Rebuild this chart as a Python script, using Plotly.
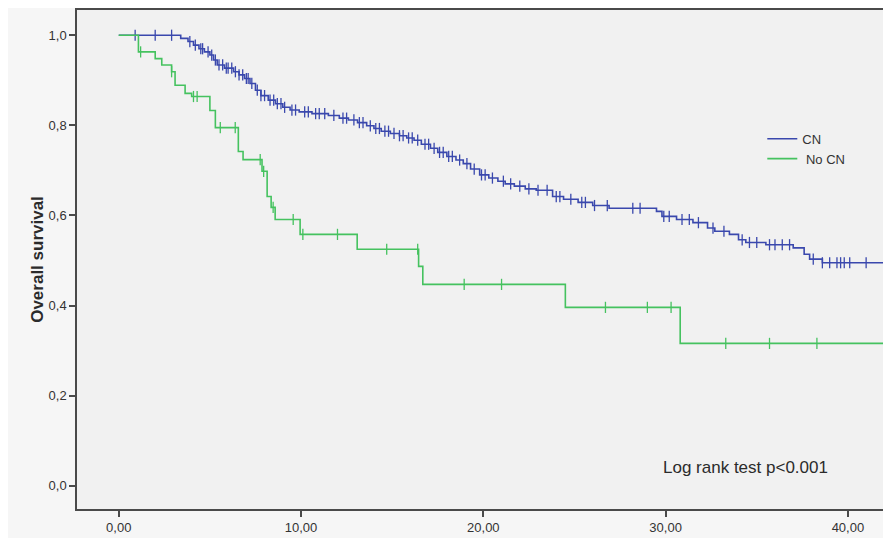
import numpy as np
import plotly.graph_objects as go

# CN group: step times (months) and survival after each step
cn_time = [0.0, 3.4, 3.8, 4.1, 4.4, 4.7, 5.0, 5.2, 5.4, 5.8, 6.3, 6.6, 6.9, 7.2, 7.5, 7.8,
           8.2, 8.6, 9.0, 9.4, 9.9, 10.6, 11.5, 12.1, 12.6, 13.1, 13.6, 14.0, 14.4, 14.9,
           15.4, 15.8, 16.2, 16.6, 17.1, 17.5, 18.0, 18.5, 18.9, 19.3, 19.8, 20.3, 20.8,
           21.2, 21.7, 22.3, 22.9, 23.8, 24.4, 25.2, 26.0, 26.9, 29.5, 29.8, 30.6, 31.5,
           32.3, 32.7, 33.5, 34.0, 34.4, 35.5, 37.0, 37.6, 37.9, 38.6]
cn_surv = [1.000, 0.993, 0.986, 0.978, 0.970, 0.963, 0.956, 0.945, 0.934, 0.927, 0.919,
           0.912, 0.904, 0.893, 0.878, 0.866, 0.856, 0.848, 0.840, 0.834, 0.830, 0.826,
           0.822, 0.816, 0.812, 0.806, 0.799, 0.793, 0.787, 0.782, 0.777, 0.772, 0.767,
           0.758, 0.749, 0.740, 0.731, 0.723, 0.715, 0.703, 0.690, 0.683, 0.676, 0.670,
           0.665, 0.659, 0.656, 0.642, 0.636, 0.629, 0.622, 0.616, 0.609, 0.598, 0.591,
           0.584, 0.572, 0.565, 0.558, 0.546, 0.540, 0.535, 0.528, 0.514, 0.503, 0.495]
cn_end = 42.3
cn_censor = [0.9, 2.0, 2.9, 3.9, 4.2, 4.5, 4.6, 4.9, 5.1, 5.3, 5.5, 5.7, 5.9, 6.0, 6.2,
             6.4, 6.6, 6.8, 7.0, 7.1, 7.3, 7.6, 7.8, 8.0, 8.3, 8.5, 8.7, 8.9, 9.1, 9.5,
             9.7, 10.2, 10.4, 10.8, 11.0, 11.3, 11.8, 12.3, 12.5, 12.9, 13.2, 13.4, 13.8,
             14.1, 14.3, 14.6, 14.8, 15.1, 15.4, 15.6, 15.9, 16.1, 16.4, 16.8, 17.0, 17.3,
             17.6, 17.8, 18.1, 18.3, 18.7, 19.1, 19.5, 19.9, 20.1, 20.5, 21.1, 21.5, 22.0,
             22.5, 23.0, 23.5, 24.0, 24.2, 24.8, 25.4, 25.6, 26.1, 26.8, 28.2, 28.6, 29.9,
             30.2, 30.9, 31.3, 31.8, 32.6, 33.2, 34.2, 34.6, 35.0, 35.7, 36.0, 36.4, 36.8,
             38.1, 38.6, 39.0, 39.4, 39.6, 39.8, 40.1, 41.0]

# No CN group
nocn_time = [0.0, 1.08, 2.0, 2.36, 2.9, 3.09, 3.64, 4.0, 5.0, 5.3, 6.56, 6.82, 7.86, 8.14,
             8.36, 8.58, 9.95, 13.08, 16.45, 16.68, 24.5, 30.8]
nocn_surv = [1.000, 0.963, 0.948, 0.934, 0.919, 0.889, 0.871, 0.864, 0.833, 0.795, 0.742,
             0.724, 0.698, 0.642, 0.618, 0.591, 0.558, 0.525, 0.487, 0.447, 0.396, 0.316]
nocn_end = 42.3
nocn_censor = [1.2, 2.9, 4.1, 4.3, 5.57, 6.39, 7.76, 7.95, 8.47, 9.57, 10.1, 12.0, 14.7,
               16.4, 18.95, 21.0, 26.7, 29.0, 30.3, 33.3, 35.7, 38.3]

group_names = ["CN", " No CN"]
x_ticks = [0, 10, 20, 30, 40]
y_ticks = [0, 0.2, 0.4, 0.6, 0.8, 1.0]

BLUE = "#3a48ad"
GREEN = "#45c25f"


def step_value(times, surv, t):
    idx = np.searchsorted(np.array(times), np.array(t), side="right") - 1
    return list(np.array(surv)[idx])


fig = go.Figure()
for name, times, surv, end, cens, col in [
    (group_names[0], cn_time, cn_surv, cn_end, cn_censor, BLUE),
    (group_names[1], nocn_time, nocn_surv, nocn_end, nocn_censor, GREEN),
]:
    fig.add_trace(go.Scatter(
        x=times + [end], y=surv + [surv[-1]], mode="lines", name=name,
        line=dict(color=col, width=1.6, shape="hv"), showlegend=True))
    fig.add_trace(go.Scatter(
        x=cens, y=step_value(times, surv, cens), mode="markers", showlegend=False,
        marker=dict(symbol="line-ns-open", size=8, color=col,
                    line=dict(color=col, width=1.3)),
        hoverinfo="skip"))

fig.add_annotation(x=0.928, y=0.084, xref="paper", yref="paper", xanchor="right",
                   yanchor="middle", text="Log rank test p<0.001", showarrow=False,
                   font=dict(size=17, color="#2b2b2b", family="Liberation Sans, Arial"))

fig.update_layout(
    width=883, height=530,
    margin=dict(l=69, r=3, t=0, b=29),
    paper_bgcolor="#f6f6f6", plot_bgcolor="#f1f1f1",
    separators=",.",
    font=dict(family="Liberation Sans, Arial", size=13, color="#333333"),
    legend=dict(x=0.845, y=0.772, xanchor="left", yanchor="top",
                bgcolor="rgba(0,0,0,0)", font=dict(size=13, color="#333333"),
                tracegroupgap=0, itemwidth=30),
    xaxis=dict(range=[-2.29, 42.2], tickvals=x_ticks, tickformat=".2f",
               showgrid=False, zeroline=False, showline=True, linecolor="#4a4a4a",
               linewidth=1.5, mirror=True, ticks="outside", ticklen=6, tickwidth=1.5,
               tickcolor="#4a4a4a"),
    yaxis=dict(range=[-0.0515, 1.056], tickvals=y_ticks,
               tickformat=".1f", showgrid=False, zeroline=False, showline=True,
               linecolor="#4a4a4a", linewidth=1.5, mirror=True, ticks="outside",
               ticklen=6, tickwidth=1.5, tickcolor="#4a4a4a",
               title=dict(text="<b>Overall survival</b>", standoff=1,
                          font=dict(size=17, color="#2b2b2b"))),
)

fig.write_html("out.html")
